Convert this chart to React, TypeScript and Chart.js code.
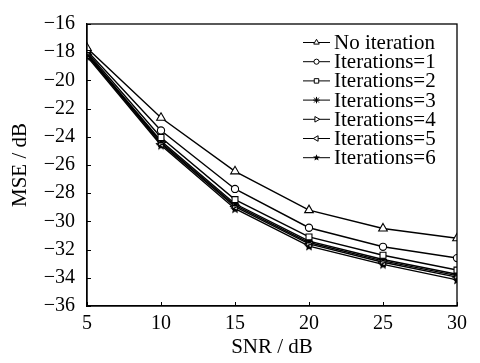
import React, { useEffect, useRef } from 'react';
import { Chart, registerables } from 'chart.js';

Chart.register(...registerables);

const snrValues = [5, 10, 15, 20, 25, 30];
const seriesNames = [
  'No iteration',
  'Iterations=1',
  'Iterations=2',
  'Iterations=3',
  'Iterations=4',
  'Iterations=5',
  'Iterations=6',
];
const noIteration = [-17.7, -22.65, -26.45, -29.2, -30.5, -31.2];
const iterations1 = [-17.9, -23.55, -27.7, -30.45, -31.8, -32.6];
const iterations2 = [-18.0, -24.05, -28.45, -31.1, -32.4, -33.45];
const iterations3 = [-18.1, -24.3, -28.75, -31.4, -32.7, -33.75];
const iterations4 = [-18.15, -24.4, -28.85, -31.5, -32.8, -33.85];
const iterations5 = [-18.2, -24.5, -28.95, -31.6, -32.9, -33.95];
const iterations6 = [-18.3, -24.6, -29.1, -31.75, -33.05, -34.15];
const seriesValues = [noIteration, iterations1, iterations2, iterations3, iterations4, iterations5, iterations6];

const xTickValues = [5, 10, 15, 20, 25, 30];
const yTickValues = [-16, -18, -20, -22, -24, -26, -28, -30, -32, -34, -36];

const markerKinds = ['triangle', 'circle', 'rect', 'asterisk', 'triRight', 'triLeft', 'star5'];

const FONT = "'Liberation Serif', 'Times New Roman', serif";

function starPath(ctx: CanvasRenderingContext2D, cx: number, cy: number, r: number) {
  const inner = r * 0.45;
  ctx.beginPath();
  for (let i = 0; i < 10; i++) {
    const rad = i % 2 === 0 ? r : inner;
    const ang = -Math.PI / 2 + (i * Math.PI) / 5;
    const px = cx + rad * Math.cos(ang);
    const py = cy + rad * Math.sin(ang);
    if (i === 0) ctx.moveTo(px, py);
    else ctx.lineTo(px, py);
  }
  ctx.closePath();
}

function makeStarCanvas(r: number) {
  const c = document.createElement('canvas');
  const s = Math.ceil(r * 2 + 2);
  c.width = s;
  c.height = s;
  const g = c.getContext('2d')!;
  g.fillStyle = '#000';
  starPath(g, s / 2, s / 2 + 0.5, r);
  g.fill();
  return c;
}

function drawMarker(ctx: CanvasRenderingContext2D, kind: string, x: number, y: number, r: number) {
  ctx.save();
  ctx.strokeStyle = '#000';
  ctx.fillStyle = '#fff';
  ctx.lineWidth = 1;
  const tri = (rot: number) => {
    ctx.beginPath();
    for (let i = 0; i < 3; i++) {
      const ang = rot - Math.PI / 2 + (i * 2 * Math.PI) / 3;
      const px = x + r * Math.cos(ang);
      const py = y + r * Math.sin(ang);
      if (i === 0) ctx.moveTo(px, py);
      else ctx.lineTo(px, py);
    }
    ctx.closePath();
    ctx.fill();
    ctx.stroke();
  };
  switch (kind) {
    case 'triangle':
      tri(0);
      break;
    case 'triRight':
      tri(Math.PI / 2);
      break;
    case 'triLeft':
      tri(-Math.PI / 2);
      break;
    case 'circle':
      ctx.beginPath();
      ctx.arc(x, y, r * 0.8, 0, Math.PI * 2);
      ctx.fill();
      ctx.stroke();
      break;
    case 'rect': {
      const h = r * 0.7;
      ctx.beginPath();
      ctx.rect(x - h, y - h, 2 * h, 2 * h);
      ctx.fill();
      ctx.stroke();
      break;
    }
    case 'asterisk': {
      ctx.beginPath();
      const d = r * 0.75;
      ctx.moveTo(x - r, y);
      ctx.lineTo(x + r, y);
      ctx.moveTo(x, y - r);
      ctx.lineTo(x, y + r);
      ctx.moveTo(x - d, y - d);
      ctx.lineTo(x + d, y + d);
      ctx.moveTo(x - d, y + d);
      ctx.lineTo(x + d, y - d);
      ctx.stroke();
      break;
    }
    case 'star5':
      ctx.fillStyle = '#000';
      starPath(ctx, x, y, r * 1.1);
      ctx.fill();
      break;
  }
  ctx.restore();
}

const framePlugin = {
  id: 'frameAndLegend',
  afterDraw(chart: any) {
    const { ctx, chartArea: a, scales } = chart;
    ctx.save();
    ctx.strokeStyle = '#000';
    ctx.lineWidth = 1.3;
    ctx.strokeRect(a.left, a.top, a.right - a.left, a.bottom - a.top);
    ctx.lineWidth = 1;
    scales.x.ticks.forEach((t: any) => {
      const px = Math.round(scales.x.getPixelForValue(t.value)) + 0.5;
      ctx.beginPath();
      ctx.moveTo(px, a.bottom);
      ctx.lineTo(px, a.bottom - 4);
      ctx.stroke();
    });
    scales.y.ticks.forEach((t: any) => {
      const py = Math.round(scales.y.getPixelForValue(t.value)) + 0.5;
      ctx.beginPath();
      ctx.moveTo(a.left, py);
      ctx.lineTo(a.left + 4, py);
      ctx.stroke();
    });

    // legend
    const lx0 = a.right - 154;
    const ly0 = a.top + 18.5;
    const rowH = 19.2;
    ctx.font = `21px ${FONT}`;
    ctx.textBaseline = 'middle';
    ctx.textAlign = 'left';
    ctx.fillStyle = '#000';
    seriesNames.forEach((name, i) => {
      const y = ly0 + i * rowH;
      ctx.lineWidth = 1;
      ctx.strokeStyle = '#000';
      ctx.beginPath();
      ctx.moveTo(lx0, y);
      ctx.lineTo(lx0 + 27, y);
      ctx.stroke();
      drawMarker(ctx, markerKinds[i], lx0 + 13.5, y, 3.2);
      ctx.fillStyle = '#000';
      ctx.fillText(name, lx0 + 31, y + 1);
    });
    ctx.restore();
  },
};

function pointStyleFor(kind: string, star: HTMLCanvasElement) {
  switch (kind) {
    case 'triangle':
      return { pointStyle: 'triangle', rotation: 0, radius: 5 };
    case 'circle':
      return { pointStyle: 'circle', rotation: 0, radius: 3.6 };
    case 'rect':
      return { pointStyle: 'rect', rotation: 0, radius: 4.2 };
    case 'asterisk':
      return { pointStyle: 'star', rotation: 0, radius: 4 };
    case 'triRight':
      return { pointStyle: 'triangle', rotation: 90, radius: 4.5 };
    case 'triLeft':
      return { pointStyle: 'triangle', rotation: -90, radius: 4.5 };
    default:
      return { pointStyle: star, rotation: 0, radius: 5 };
  }
}

export default function App() {
  const canvasRef = useRef<HTMLCanvasElement | null>(null);

  useEffect(() => {
    document.body.style.margin = '0';
    const canvas = canvasRef.current;
    if (!canvas) return;
    const star = makeStarCanvas(5);
    const datasets = seriesNames.map((name, i) => {
      const ps = pointStyleFor(markerKinds[i], star);
      return {
        label: name,
        data: snrValues.map((x, j) => ({ x, y: seriesValues[i][j] })),
        borderColor: '#000',
        backgroundColor: '#fff',
        borderWidth: 1.4,
        pointStyle: ps.pointStyle as any,
        pointRotation: ps.rotation,
        pointRadius: ps.radius,
        pointBorderWidth: 1.1,
        pointBorderColor: '#000',
        pointBackgroundColor: '#fff',
        tension: 0,
      };
    });

    const chart = new Chart(canvas, {
      type: 'line',
      data: { datasets },
      options: {
        animation: false,
        responsive: false,
        devicePixelRatio: 1,
        layout: { padding: { left: 0, right: 23, top: 15, bottom: 0 } },
        plugins: {
          legend: { display: false },
          tooltip: { enabled: false },
        },
        scales: {
          x: {
            type: 'linear',
            min: 5,
            max: 30,
            afterBuildTicks: (s: any) => {
              s.ticks = xTickValues.map((v) => ({ value: v }));
            },
            afterFit: (s: any) => {
              s.height = 57;
            },
            grid: { display: false, drawTicks: false },
            border: { display: true, color: '#000', width: 1.3 },
            ticks: {
              color: '#000',
              padding: 6,
              font: { family: FONT, size: 20 },
              maxRotation: 0,
            },
            title: {
              display: true,
              text: 'SNR / dB',
              color: '#000',
              font: { family: FONT, size: 21 },
              padding: { top: 0, bottom: 3 },
            },
          },
          y: {
            type: 'linear',
            min: -36,
            max: -16,
            afterBuildTicks: (s: any) => {
              s.ticks = yTickValues.map((v) => ({ value: v }));
            },
            afterFit: (s: any) => {
              s.width = 87;
            },
            grid: { display: false, drawTicks: false },
            border: { display: true, color: '#000', width: 1.3 },
            ticks: {
              color: '#000',
              padding: 12,
              font: { family: FONT, size: 20 },
              callback: (v: any) => String(v).replace('-', '\u2212'),
            },
            title: {
              display: true,
              text: 'MSE / dB',
              color: '#000',
              font: { family: FONT, size: 21 },
              padding: { top: 8, bottom: 0 },
            },
          },
        },
      },
      plugins: [framePlugin],
    });
    return () => chart.destroy();
  }, []);

  return (
    <div style={{ width: 480, height: 363 }}>
      <canvas ref={canvasRef} width={480} height={363} style={{ display: 'block' }} />
    </div>
  );
}
